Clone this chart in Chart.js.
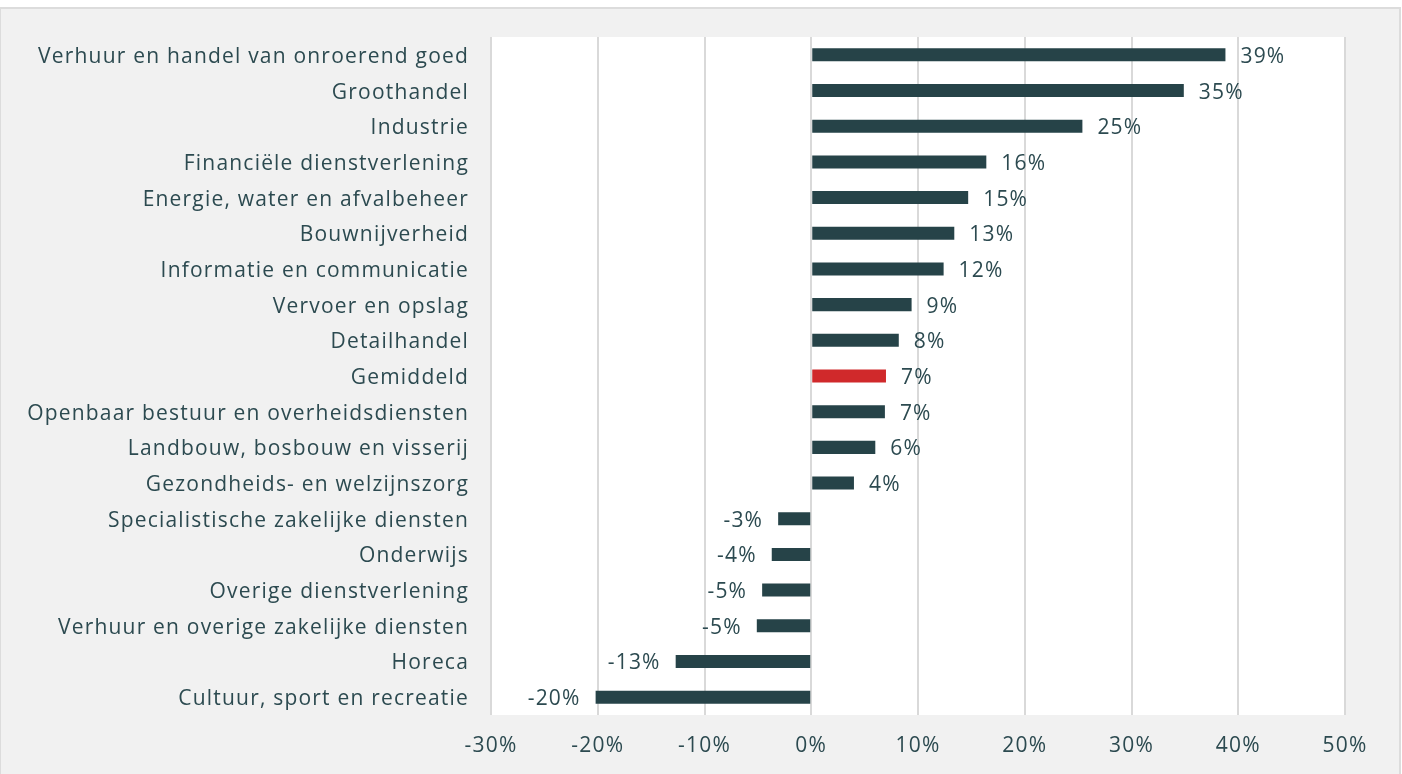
<!DOCTYPE html>
<html>
<head>
<meta charset="utf-8">
<script src="https://cdn.jsdelivr.net/npm/chart.js@4"></script>
<style>
  html, body { margin: 0; padding: 0; background: #ffffff; overflow: hidden; }
  #frame {
    position: absolute; left: -1px; top: 7px; width: 1398px; height: 800px;
    background: #f1f1f1; border: 2px solid #dcdcdc;
  }
  #wrap { position: absolute; left: 0; top: 0; width: 1402px; height: 774px; }
</style>
</head>
<body>
<div id="frame"></div>
<div id="wrap"><canvas id="sectorChart" width="1402" height="774"></canvas></div>
<script>
const sectors = [
  'Verhuur en handel van onroerend goed',
  'Groothandel',
  'Industrie',
  'Financiële dienstverlening',
  'Energie, water en afvalbeheer',
  'Bouwnijverheid',
  'Informatie en communicatie',
  'Vervoer en opslag',
  'Detailhandel',
  'Gemiddeld',
  'Openbaar bestuur en overheidsdiensten',
  'Landbouw, bosbouw en visserij',
  'Gezondheids- en welzijnszorg',
  'Specialistische zakelijke diensten',
  'Onderwijs',
  'Overige dienstverlening',
  'Verhuur en overige zakelijke diensten',
  'Horeca',
  'Cultuur, sport en recreatie'
];
const growth = [38.8, 34.9, 25.4, 16.4, 14.7, 13.4, 12.4, 9.4, 8.2, 7.0, 6.9, 6.0, 4.0,
                -3.1, -3.7, -4.6, -5.1, -12.7, -20.2];
const xTicks = [-30, -20, -10, 0, 10, 20, 30, 40, 50];

const DARK = '#264348';
const RED = '#d0292b';
const TEXT = '#2c4a50';
const FONT = '"Open Sans", "Noto Sans", sans-serif';
const SPACING = '1.2px';

// white plot area behind the bars, wider letter spacing for all text
const plotBg = {
  id: 'plotBg',
  beforeDraw(chart) {
    const a = chart.chartArea, c = chart.ctx;
    c.letterSpacing = SPACING;
    c.save();
    c.fillStyle = '#ffffff';
    c.fillRect(a.left, a.top, a.right - a.left, a.bottom - a.top);
    c.restore();
  }
};

// value labels next to the bar ends
const valueLabels = {
  id: 'valueLabels',
  afterDatasetsDraw(chart) {
    const c = chart.ctx;
    const meta = chart.getDatasetMeta(0);
    c.save();
    c.letterSpacing = SPACING;
    c.font = '21px ' + FONT;
    c.fillStyle = TEXT;
    c.textBaseline = 'middle';
    meta.data.forEach((bar, i) => {
      const v = growth[i];
      const txt = Math.round(v) + '%';
      if (v >= 0) {
        c.textAlign = 'left';
        c.fillText(txt, bar.x + 15, bar.y + 2);
      } else {
        c.textAlign = 'right';
        c.fillText(txt, bar.x - 15, bar.y + 2);
      }
    });
    c.restore();
  }
};

const ctx = document.getElementById('sectorChart').getContext('2d');
new Chart(ctx, {
  type: 'bar',
  data: {
    labels: sectors,
    datasets: [{
      data: growth,
      backgroundColor: sectors.map(s => s === 'Gemiddeld' ? RED : DARK),
      barPercentage: 0.73,
      categoryPercentage: 0.5
    }]
  },
  options: {
    indexAxis: 'y',
    responsive: false,
    animation: false,
    layout: { padding: { top: 37, right: 57, left: 0, bottom: 0 } },
    plugins: { legend: { display: false }, tooltip: { enabled: false } },
    scales: {
      x: {
        min: -30, max: 50,
        afterBuildTicks(axis) { axis.ticks = xTicks.map(v => ({ value: v })); },
        afterFit(axis) { axis.height = 59; },
        border: { display: false },
        grid: { color: '#d9d9d9', lineWidth: 2, drawTicks: false },
        ticks: {
          padding: 18,
          color: TEXT,
          font: { family: FONT, size: 21 },
          callback: v => v + '%'
        }
      },
      y: {
        afterFit(axis) { axis.width = 491; },
        border: { display: false },
        grid: { display: false, drawTicks: false },
        ticks: {
          padding: 22,
          labelOffset: 2,
          color: TEXT,
          font: { family: FONT, size: 21 },
          autoSkip: false
        }
      }
    }
  },
  plugins: [plotBg, valueLabels]
});
</script>
</body>
</html>
